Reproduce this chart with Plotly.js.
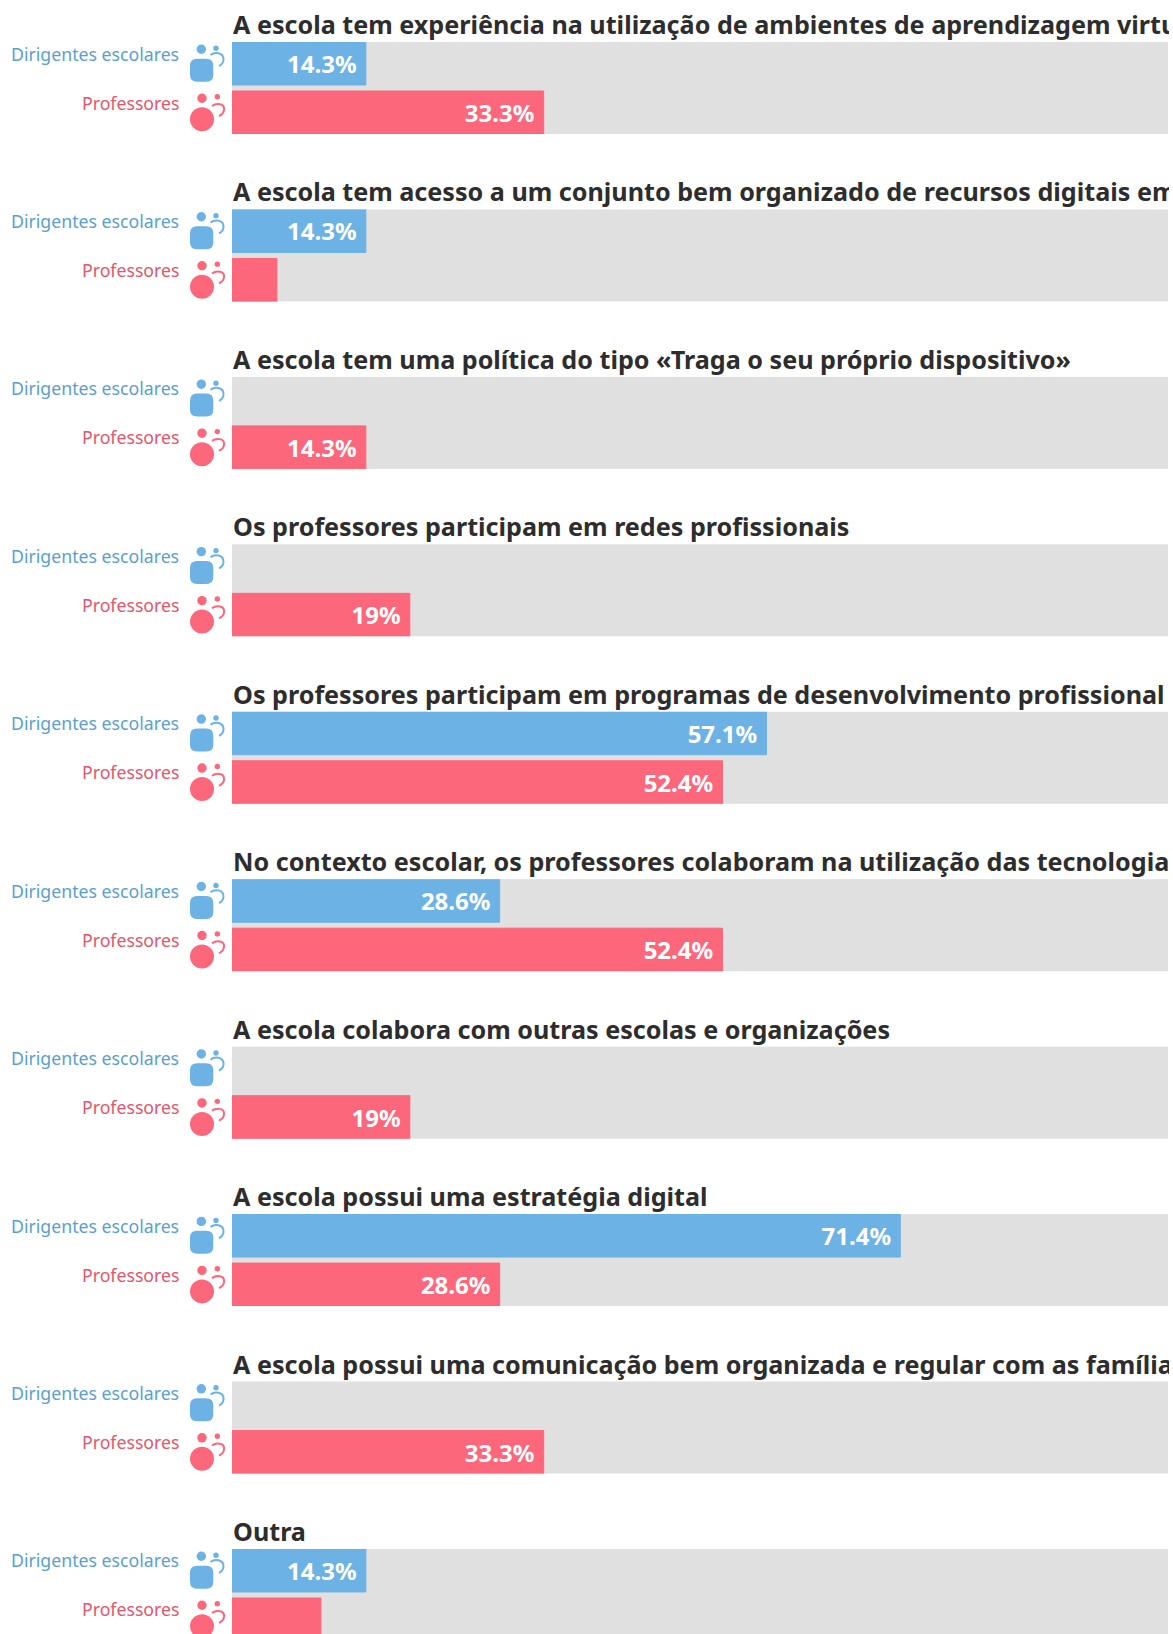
<!DOCTYPE html>
<html>
<head>
<meta charset="utf-8">
<script src="https://cdn.plot.ly/plotly-3.0.1.min.js"></script>
<style>html,body{margin:0;padding:0;background:#fff;overflow:hidden}</style>
</head>
<body>
<div id="chart" style="width:1173px;height:1634px"></div>
<script>
const titles = [
  "A escola tem experiência na utilização de ambientes de aprendizagem virtu",
  "A escola tem acesso a um conjunto bem organizado de recursos digitais em",
  "A escola tem uma política do tipo «Traga o seu próprio dispositivo»",
  "Os professores participam em redes profissionais",
  "Os professores participam em programas de desenvolvimento profissional",
  "No contexto escolar, os professores colaboram na utilização das tecnologia",
  "A escola colabora com outras escolas e organizações",
  "A escola possui uma estratégia digital",
  "A escola possui uma comunicação bem organizada e regular com as família",
  "Outra"
];
const seriesNames = ["Dirigentes escolares", "Professores"];
const dirigentes = [14.3, 14.3, 0, 0, 57.1, 28.6, 0, 71.4, 0, 14.3];
const professores = [33.3, 4.8, 14.3, 19, 52.4, 52.4, 19, 28.6, 33.3, 9.5];
const dirigentesLabels = ["14.3%", "14.3%", "", "", "57.1%", "28.6%", "", "71.4%", "", "14.3%"];
const professoresLabels = ["33.3%", "", "14.3%", "19%", "52.4%", "52.4%", "19%", "28.6%", "33.3%", ""];

const W = 1173, H = 1634;
const PLOT_L = 232, PLOT_R = 1168, TOP = 42, PERIOD = 167.44, TRACK_H = 92, UNIT = 49, PAD = 21.5;
const BLUE = "#6cb2e4", RED = "#fd677b", BLUE_TXT = "#5a9fcf", RED_TXT = "#e5556b", DARK = "#2d2d2d", GRAY = "#e0e0e0";
const FONT = "Noto Sans";
const py = p => 1 - p / H;

const data = [], annotations = [], shapes = [];
const layout = {
  width: W, height: H, margin: {l: 0, r: 0, t: 0, b: 0, pad: 0},
  paper_bgcolor: "#fff", plot_bgcolor: GRAY, showlegend: false, hovermode: false,
  bargap: 1 - 43 / UNIT, barmode: "overlay",
  xaxis: {domain: [PLOT_L / W, PLOT_R / W], range: [0, 100], visible: false, fixedrange: true, anchor: "y"}
};

function circle(cx, cy, r, color, yAnchor) {
  return {type: "circle", xref: "paper", yref: "paper", xsizemode: "pixel", ysizemode: "pixel",
    xanchor: 0, yanchor: yAnchor, x0: cx - r, x1: cx + r, y0: -(cy - r), y1: -(cy + r),
    fillcolor: color, line: {width: 0}, layer: "above"};
}
function path(d, color, fill, yAnchor) {
  return {type: "path", path: d, xref: "paper", yref: "paper", xsizemode: "pixel", ysizemode: "pixel",
    xanchor: 0, yanchor: yAnchor, fillcolor: fill ? color : "rgba(0,0,0,0)",
    line: {color: color, width: fill ? 0 : 2}, layer: "above"};
}

titles.forEach((t, i) => {
  const top = TOP + i * PERIOD, bottom = Math.min(top + TRACK_H, H);
  const name = i === 0 ? "yaxis" : "yaxis" + (i + 1);
  const yref = i === 0 ? "y" : "y" + (i + 1);
  const r0 = -PAD / UNIT, r1 = r0 + (bottom - top) / UNIT;
  layout[name] = {domain: [1 - bottom / H, 1 - top / H], type: "category", categoryarray: seriesNames,
    range: [r1, r0], visible: false, fixedrange: true, anchor: "x"};
  const vals = [dirigentes[i], professores[i]];
  data.push({
    type: "bar", orientation: "h", xaxis: "x", yaxis: yref,
    y: seriesNames, x: vals,
    marker: {color: [BLUE, RED], line: {width: vals.map(v => v > 0 ? 1 : 0), color: [BLUE, RED]}},
    text: [dirigentesLabels[i], professoresLabels[i]].map(s => s ? s + "\u00a0" : ""),
    textposition: "inside", insidetextanchor: "end", textangle: 0, constraintext: "none",
    textfont: {family: FONT, size: 24, color: "#fff", weight: 700},
    cliponaxis: true
  });
  annotations.push({
    xref: "paper", yref: "paper", x: PLOT_L / W, y: py(top - 18), xanchor: "left", yanchor: "middle",
    width: PLOT_R - PLOT_L, align: "left", showarrow: false, text: "<b>" + t + "</b>", borderpad: 0,
    font: {family: FONT, size: 25.15, color: DARK}
  });
  seriesNames.forEach((s, k) => {
    annotations.push({
      xref: "paper", yref: yref, x: 180 / W, y: s, yshift: 10, xanchor: "right", yanchor: "middle",
      showarrow: false, text: s, borderpad: 0,
      font: {family: FONT, size: 17.7, color: k === 0 ? BLUE_TXT : RED_TXT}
    });
  });
  const a = py(top);
  // Dirigentes icon
  shapes.push(circle(201.3, 7.3, 4.7, BLUE, a));
  shapes.push(circle(216, 6.3, 2.7, BLUE, a));
  shapes.push(path("M197,-16.7 L206.3,-16.7 Q213.3,-16.7 213.3,-23.7 L213.3,-32.7 Q213.3,-39.7 206.3,-39.7 L197,-39.7 Q190,-39.7 190,-32.7 L190,-23.7 Q190,-16.7 197,-16.7 Z", BLUE, true, a));
  shapes.push(path("M210.5,-13 C214,-10 224,-9.5 223.5,-18 C223,-22 221,-23 219,-24", BLUE, false, a));
  // Professores icon
  shapes.push(circle(202, 56.3, 4.7, RED, a));
  shapes.push(circle(217.3, 54.7, 2.7, RED, a));
  shapes.push(circle(202, 77.3, 12, RED, a));
  shapes.push(path("M212,-64 C216,-61 225,-61 224,-68 C223.5,-72 221,-73 219,-74", RED, false, a));
});
layout.annotations = annotations;
layout.shapes = shapes;
Plotly.newPlot("chart", data, layout, {displayModeBar: false, staticPlot: true});
</script>
</body>
</html>
